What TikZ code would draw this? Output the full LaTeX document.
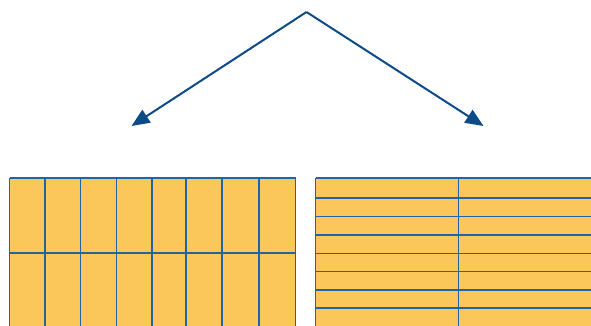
\documentclass[tikz,border=0pt]{standalone}
\usetikzlibrary{arrows.meta}
\definecolor{cellfill}{HTML}{FCC75A}
\definecolor{gridblue}{HTML}{1F64A4}
\definecolor{arrowblue}{HTML}{0C4A88}
\begin{document}
\begin{tikzpicture}[x=1pt,y=-1pt,
  conn/.style={draw=arrowblue,line width=2pt,-{Triangle[length=18pt,width=15pt]}},
  gridline/.style={draw=gridblue,line width=1.1pt}]
\useasboundingbox (0,0) rectangle (591,326);
\clip (0,0) rectangle (591,326);
\coordinate (apex) at (306.5,12);
\coordinate (lefttip) at (131.5,126);
\coordinate (righttip) at (483.5,126);
\draw[conn] (apex) -- (lefttip);
\draw[conn] (apex) -- (righttip);
% left grid
\fill[cellfill] (9.5,178) rectangle (295.7,340);
\foreach \x in {9.5,45,80.5,116.5,152,186,222,259,295.7}
  \draw[gridline] (\x,178) -- (\x,340);
\foreach \y in {178,253}
  \draw[gridline] (9.5,\y) -- (295.7,\y);
% right grid
\fill[cellfill] (315.7,178) rectangle (610,340);
\foreach \x in {315.7,458.3,601}
  \draw[gridline] (\x,178) -- (\x,340);
\foreach \y in {178,198,216.3,235,253.3,271.7,290,308,326.6}
  \draw[gridline] (315.7,\y) -- (610,\y);
\end{tikzpicture}
\end{document}
